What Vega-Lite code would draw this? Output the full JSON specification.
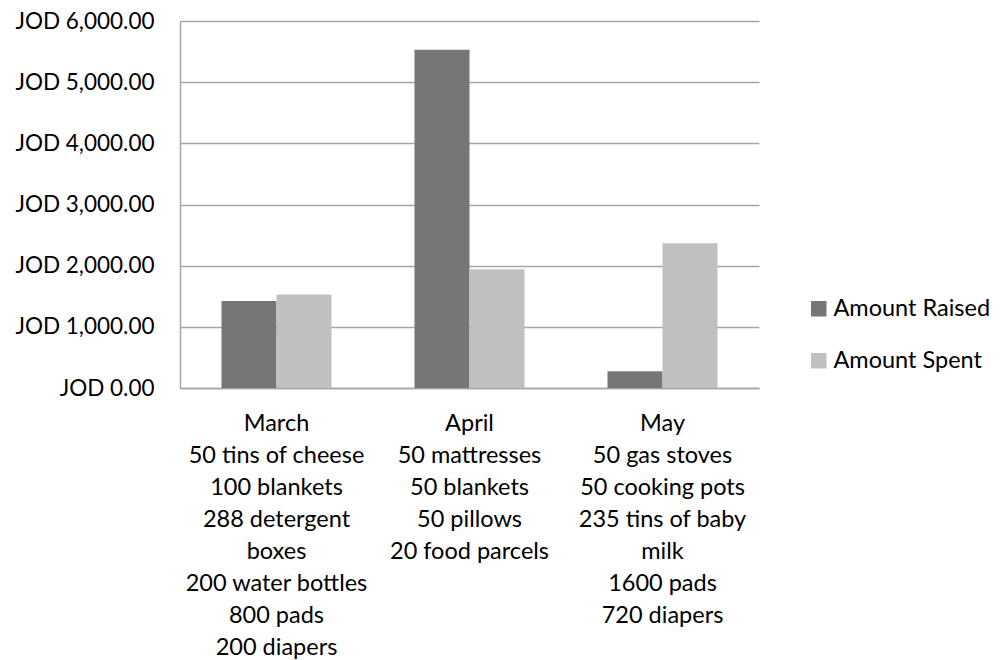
{
  "$schema": "https://vega.github.io/schema/vega-lite/v6.json",
  "width": 579,
  "height": 367,
  "autosize": {"type": "none"},
  "padding": {"left": 180, "top": 21, "right": 241, "bottom": 272},
  "background": "white",
  "config": {
    "view": {"stroke": null},
    "font": "Lato",
    "axis": {"labelFont": "Lato", "labelColor": "#000000"},
    "legend": {"labelFont": "Lato", "labelColor": "#000000"}
  },
  "data": {
    "values": [
      {"cat": "March|50 tins of cheese|100 blankets|288 detergent|boxes|200 water bottles|800 pads|200 diapers", "series": "Amount Raised", "amount": 1424},
      {"cat": "March|50 tins of cheese|100 blankets|288 detergent|boxes|200 water bottles|800 pads|200 diapers", "series": "Amount Spent", "amount": 1527},
      {"cat": "April|50 mattresses|50 blankets|50 pillows|20 food parcels", "series": "Amount Raised", "amount": 5532},
      {"cat": "April|50 mattresses|50 blankets|50 pillows|20 food parcels", "series": "Amount Spent", "amount": 1943},
      {"cat": "May|50 gas stoves|50 cooking pots|235 tins of baby|milk|1600 pads|720 diapers", "series": "Amount Raised", "amount": 273},
      {"cat": "May|50 gas stoves|50 cooking pots|235 tins of baby|milk|1600 pads|720 diapers", "series": "Amount Spent", "amount": 2368}
    ]
  },
  "mark": {"type": "bar"},
  "encoding": {
    "x": {
      "field": "cat",
      "type": "nominal",
      "sort": null,
      "scale": {"paddingInner": 0.43, "paddingOuter": 0.215},
      "axis": {
        "title": null,
        "labelAngle": 0,
        "ticks": false,
        "domain": true,
        "domainColor": "#a6a6a6",
        "domainWidth": 1.5,
        "labelExpr": "split(datum.label, '|')",
        "labelFontSize": 23.5,
        "labelLineHeight": 32,
        "labelPadding": 23,
        "labelLimit": 0,
        "labelOverlap": false,
        "labelBaseline": "top"
      }
    },
    "xOffset": {"field": "series", "type": "nominal", "scale": {"paddingInner": 0, "paddingOuter": 0}},
    "y": {
      "field": "amount",
      "type": "quantitative",
      "scale": {"domain": [0, 6000], "nice": false},
      "axis": {
        "title": null,
        "values": [0, 1000, 2000, 3000, 4000, 5000, 6000],
        "labelExpr": "'JOD ' + format(datum.value, ',.2f')",
        "ticks": false,
        "domain": true,
        "domainColor": "#a6a6a6",
        "domainWidth": 1.5,
        "grid": true,
        "gridColor": "#a6a6a6",
        "gridWidth": 1.5,
        "labelFontSize": 22.5,
        "labelPadding": 26
      }
    },
    "color": {
      "field": "series",
      "type": "nominal",
      "scale": {"domain": ["Amount Raised", "Amount Spent"], "range": ["#767676", "#c0c0c0"]},
      "legend": {
        "title": null,
        "orient": "none",
        "legendX": 627,
        "legendY": 276,
        "symbolType": "square",
        "symbolSize": 240,
        "symbolStrokeWidth": 0,
        "labelFontSize": 23.5,
        "rowPadding": 27,
        "labelOffset": 3,
        "labelLimit": 0
      }
    }
  }
}
